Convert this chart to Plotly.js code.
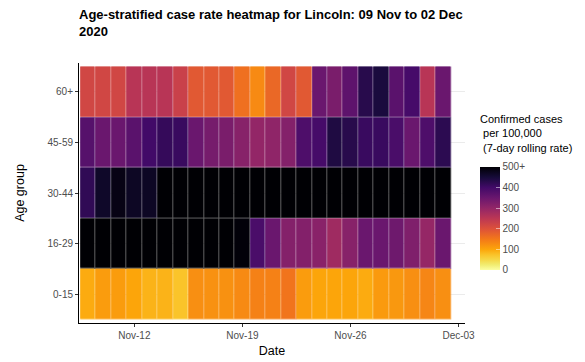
<!DOCTYPE html>
<html>
<head>
<meta charset="utf-8">
<script src="https://cdn.plot.ly/plotly-3.0.1.min.js"></script>
<style>html,body{margin:0;padding:0;background:#fff;}#chart{width:585px;height:362px;}</style>
</head>
<body>
<div id="chart"></div>
<script>
const dates = ["2020-11-09","2020-11-10","2020-11-11","2020-11-12","2020-11-13","2020-11-14","2020-11-15","2020-11-16","2020-11-17","2020-11-18","2020-11-19","2020-11-20","2020-11-21","2020-11-22","2020-11-23","2020-11-24","2020-11-25","2020-11-26","2020-11-27","2020-11-28","2020-11-29","2020-11-30","2020-12-01","2020-12-02"];
const ageGroups = ["0-15","16-29","30-44","45-59","60+"];
const rate_0_15  = [95,110,110,100,88,88,73,125,122,122,130,140,140,155,110,100,100,100,95,112,115,125,135,125];
const rate_16_29 = [560,570,580,575,565,560,555,550,545,530,495,390,350,318,320,312,285,315,350,350,345,325,298,350];
const rate_30_44 = [420,465,485,470,470,530,540,545,550,555,560,565,570,575,580,585,590,580,575,570,565,560,560,555];
const rate_45_59 = [375,350,350,370,400,415,410,350,335,330,315,300,305,318,385,395,440,430,410,410,390,350,385,425];
const rate_60    = [220,220,220,255,255,255,230,190,190,190,160,130,170,220,190,350,330,365,430,445,370,395,255,350];
const cbTickVals = [0,100,200,300,400,500];
const cbTickText = ["0","100","200","300","400","500+"];
const legendTitle = 'Confirmed cases<br> per 100,000<br> (7-day rolling rate)';

const z = [rate_0_15, rate_16_29, rate_30_44, rate_45_59, rate_60];
const infernoR = [[0,'#fcffa4'],[0.05,'#f1ed71'],[0.1,'#f6d746'],[0.15,'#fac228'],[0.2,'#fca50a'],[0.3,'#f37819'],[0.4,'#dd513a'],[0.5,'#bc3754'],[0.6,'#932667'],[0.7,'#6a176e'],[0.8,'#420a68'],[0.9,'#160b39'],[1,'#000004']];

const baseTrace = {type:'heatmap', x:dates, y:ageGroups, z:z, zmin:0, zmax:500, colorscale:infernoR, hoverinfo:'skip'};
const underTrace = Object.assign({}, baseTrace, {showscale:false, opacity:0.62});
const overTrace = Object.assign({}, baseTrace, {xgap:1, ygap:1, showscale:true,
  colorbar:{
    x:1.039, xanchor:'left', y:0.204, yanchor:'bottom', lenmode:'pixels', len:103, thickness:20, thicknessmode:'pixels',
    xpad:0, ypad:0, outlinewidth:0, tickvals:cbTickVals, ticktext:cbTickText,
    ticks:'inside', ticklen:4, tickcolor:'rgba(255,255,255,0.5)',
    tickfont:{family:'Liberation Sans, Arial, sans-serif', size:10, color:'#4d4d4d'}
  }});

const layout = {
  width:585, height:362,
  margin:{l:79, r:120, t:63, b:39},
  paper_bgcolor:'#fff', plot_bgcolor:'#fff',
  font:{family:'Liberation Sans, Arial, sans-serif', color:'#000'},
  title:{text:'<b>Age-stratified case rate heatmap for Lincoln: 09 Nov to 02 Dec<br>2020</b>', x:79/585, xanchor:'left', xref:'container', y:1-19/362, yanchor:'top', yref:'container', font:{size:13, color:'#000'}},
  annotations:[{text:legendTitle, xref:'paper', yref:'paper', x:1.034, xanchor:'left', y:0.815, yanchor:'top', align:'left', showarrow:false, font:{size:11, color:'#000'}}],
  xaxis:{type:'date', range:['2020-11-08 10:00','2020-12-03 10:00'], tickvals:['2020-11-12','2020-11-19','2020-11-26','2020-12-03'], tickformat:'%b-%d',
    ticks:'outside', ticklen:3, tickcolor:'#333', showline:true, linecolor:'#000', linewidth:1, showgrid:false, zeroline:false,
    tickfont:{size:10, color:'#4d4d4d'}, title:{text:'Date', font:{size:12.5, color:'#000'}, standoff:6}},
  yaxis:{type:'category', range:[-0.57,4.57], ticks:'outside', ticklen:3, tickcolor:'#333', showline:true, linecolor:'#000', linewidth:1,
    showgrid:true, gridcolor:'#ebebeb', zeroline:false,
    tickfont:{size:10, color:'#4d4d4d'}, title:{text:'Age group', font:{size:12.5, color:'#000'}, standoff:20}}
};
Plotly.newPlot('chart', [underTrace, overTrace], layout, {displayModeBar:false, staticPlot:true});
</script>
</body>
</html>
